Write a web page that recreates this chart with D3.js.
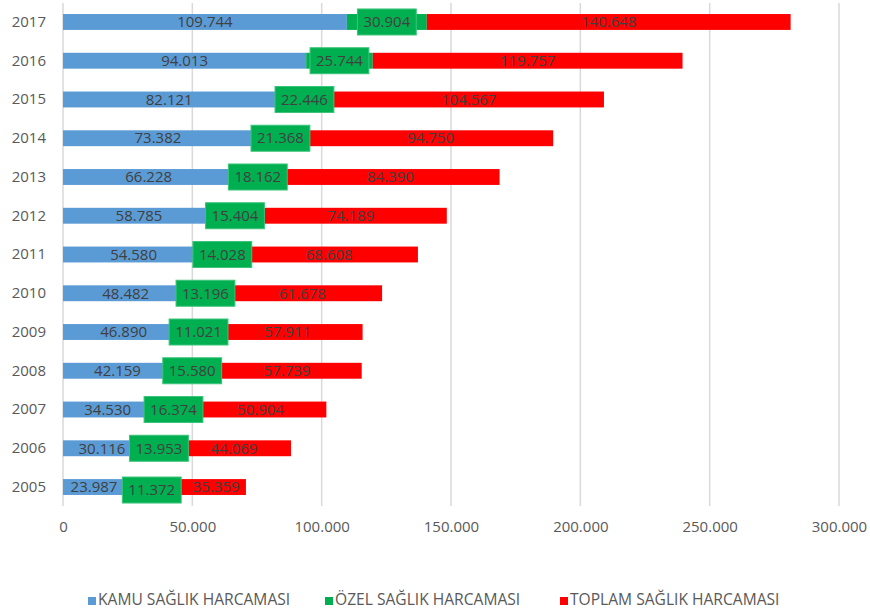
<!DOCTYPE html>
<html>
<head>
<meta charset="utf-8">
<script src="https://cdn.jsdelivr.net/npm/d3@7"></script>
<style>
  body { margin: 0; background: #fff; }
  text { font-family: "Open Sans", sans-serif; }
</style>
</head>
<body>
<div id="chart"></div>
<script>
// values
var years = ['2005', '2006', '2007', '2008', '2009', '2010', '2011', '2012', '2013', '2014', '2015', '2016', '2017'];
var kamu = [23987, 30116, 34530, 42159, 46890, 48482, 54580, 58785, 66228, 73382, 82121, 94013, 109744];
var ozel = [11372, 13953, 16374, 15580, 11021, 13196, 14028, 15404, 18162, 21368, 22446, 25744, 30904];
var toplam = [35359, 44069, 50904, 57739, 57911, 61678, 68608, 74189, 84390, 94750, 104567, 119757, 140648];
var xTicks = [0, 50000, 100000, 150000, 200000, 250000, 300000];
var seriesNames = ['KAMU SAĞLIK HARCAMASI', 'ÖZEL SAĞLIK HARCAMASI', 'TOPLAM SAĞLIK HARCAMASI'];
var seriesColors = ['#5B9BD5', '#00B050', '#FF0000'];

var width = 870;
var height = 615;

var tr = d3.formatLocale({decimal: ',', thousands: '.', grouping: [3], currency: ['', '']});
var fmt = tr.format(',');

var rows = years.map(function (y, i) {
    return {year: y, kamu: kamu[i], ozel: ozel[i], toplam: toplam[i]};
});
var stack = d3.stack().keys(['kamu', 'ozel', 'toplam'])(rows);

var svg = d3.select('#chart')
    .append('svg')
    .attr('width', width)
    .attr('height', height);

var x = d3.scaleLinear()
    .domain([0, 300000])
    .range([63, 839]);

var y = d3.scaleBand()
    .domain(years.slice().reverse())
    .range([2.6, 506.4])
    .paddingInner(0.59)
    .paddingOuter(0.295);

// grid
svg.append('g')
    .selectAll('line')
    .data(xTicks)
    .enter()
    .append('line')
    .attr('x1', function (d) {return x(d)})
    .attr('x2', function (d) {return x(d)})
    .attr('y1', 3)
    .attr('y2', 506)
    .attr('stroke', '#D9D9D9')
    .attr('stroke-width', 1.5);

var xAxis = d3.axisBottom(x)
    .tickValues(xTicks)
    .tickFormat(function (d) {return fmt(d)})
    .tickSize(0)
    .tickPadding(0);

svg.append('g')
    .attr('transform', 'translate(0, 521)')
    .call(xAxis)
    .call(function (g) {g.select('.domain').remove()})
    .selectAll('text')
    .attr('font-size', 15)
    .attr('font-family', '"Open Sans", sans-serif')
    .attr('fill', '#595959');

var yAxis = d3.axisLeft(y)
    .tickSize(0)
    .tickPadding(0);

svg.append('g')
    .attr('transform', 'translate(46, 0)')
    .call(yAxis)
    .call(function (g) {g.select('.domain').remove()})
    .selectAll('text')
    .attr('font-size', 15)
    .attr('font-family', '"Open Sans", sans-serif')
    .attr('fill', '#595959');

// bars
var layers = svg.append('g')
    .selectAll('g')
    .data(stack)
    .enter()
    .append('g')
    .attr('fill', function (d, i) {return seriesColors[i]});

layers.selectAll('rect')
    .data(function (d) {return d})
    .enter()
    .append('rect')
    .attr('x', function (d) {return x(d[0])})
    .attr('y', function (d) {return y(d.data.year)})
    .attr('width', function (d) {return x(d[1]) - x(d[0])})
    .attr('height', y.bandwidth());

// the 2005 labels were dragged a bit in the original
var nudge = {
    '2005': {ozel: [12, 3], toplam: [16, 0]}
};

// labels: blue and red straight on the bar, green in a filled box
function addLabels(layer, boxed) {
    var g = svg.append('g');
    var key = layer.key;
    layer.forEach(function (d) {
        var off = (nudge[d.data.year] && nudge[d.data.year][key]) || [0, 0];
        var cx = (x(d[0]) + x(d[1])) / 2 + off[0];
        var cy = y(d.data.year) + y.bandwidth() / 2 + off[1];
        var box = boxed ? g.append('rect') : null;
        var t = g.append('text')
            .attr('x', cx)
            .attr('y', cy)
            .attr('dy', '0.35em')
            .attr('text-anchor', 'middle')
            .attr('font-size', 15)
            .attr('fill', '#404040')
            .text(fmt(d[1] - d[0]));
        if (boxed) {
            var w = t.node().getComputedTextLength() + 12;
            box.attr('x', cx - w / 2)
                .attr('y', cy - 13)
                .attr('width', w)
                .attr('height', 26)
                .attr('fill', '#00B050')
                .attr('stroke', '#3CC47A')
                .attr('stroke-width', 1);
        }
    });
}
addLabels(stack[0], false);
addLabels(stack[2], false);
addLabels(stack[1], true);

// legend
var legendX = [88, 325, 560];
var legend = svg.append('g')
    .selectAll('g')
    .data(seriesNames)
    .enter()
    .append('g')
    .attr('transform', function (d, i) {return 'translate(' + legendX[i] + ', 600)'});

legend.append('rect')
    .attr('x', 0)
    .attr('y', -3)
    .attr('width', 8)
    .attr('height', 8)
    .attr('fill', function (d, i) {return seriesColors[i]});

legend.append('text')
    .attr('x', 10)
    .attr('y', 0)
    .attr('dy', '0.35em')
    .attr('font-size', 15.6)
    .attr('fill', '#595959')
    .text(function (d) {return d});
</script>
</body>
</html>
